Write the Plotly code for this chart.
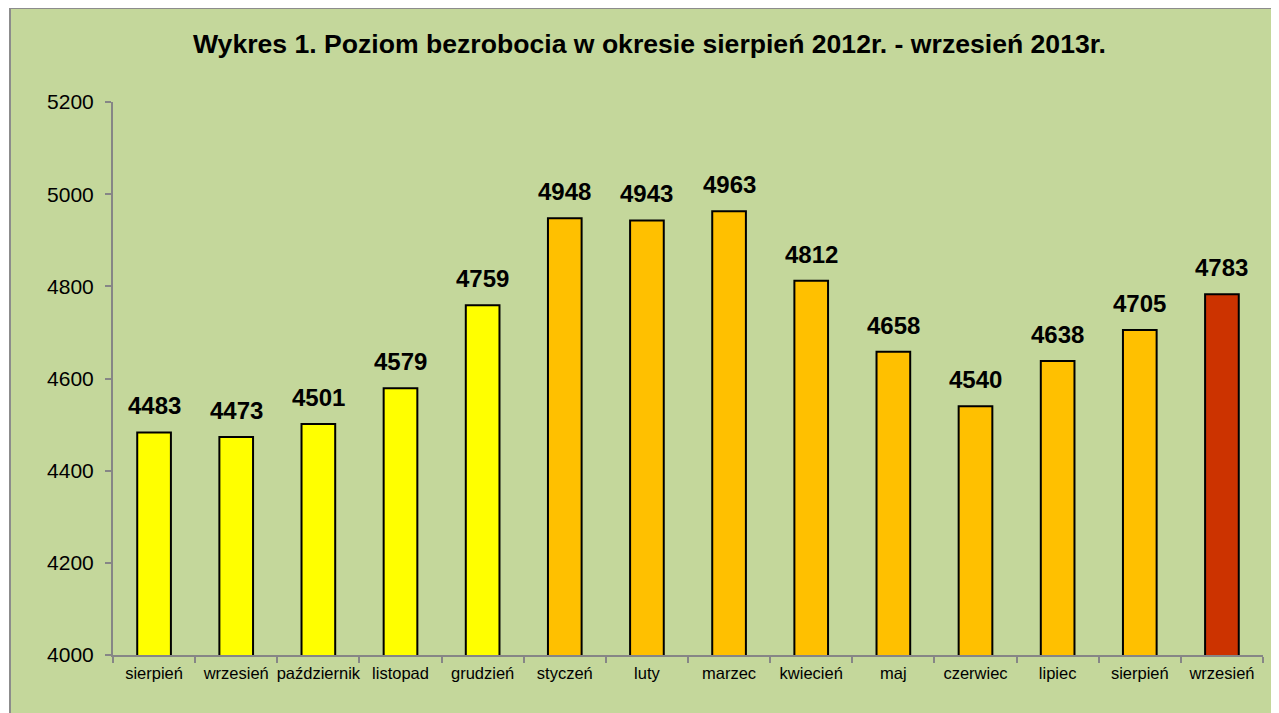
import plotly.graph_objects as go

months = ["sierpień", "wrzesień", "październik", "listopad", "grudzień", "styczeń", "luty",
          "marzec", "kwiecień", "maj", "czerwiec", "lipiec", "sierpień", "wrzesień"]
values = [4483, 4473, 4501, 4579, 4759, 4948, 4943, 4963, 4812, 4658, 4540, 4638, 4705, 4783]
colors = ["#FFFF00"] * 5 + ["#FFC000"] * 8 + ["#CC3300"]
y_ticks = [4000, 4200, 4400, 4600, 4800, 5000, 5200]
title = "Wykres 1. Poziom bezrobocia w okresie sierpień 2012r. - wrzesień 2013r."

xs = list(range(len(months)))

# page has 8px body margin; figure origin is at (8, 8) on screen
W, H = 1271, 705
L, T = 105, 94
PW, PH = 1150, 553

fig = go.Figure()
fig.add_trace(go.Bar(
    x=xs, y=values, marker=dict(color=colors, line=dict(color="#000000", width=2)),
    width=0.41, hoverinfo="skip", showlegend=False,
))

for x, v in zip(xs, values):
    fig.add_annotation(x=x, y=v, text=f"<b>{v}</b>", showarrow=False, yanchor="bottom",
                       yshift=11, font=dict(family="Liberation Sans, Arial", size=24, color="#000000"))

fig.add_shape(type="rect", xref="paper", yref="paper",
              x0=(2 - L) / PW, x1=1.05, y0=-0.3, y1=(T + PH - 0) / PH,
              fillcolor="#C4D79B", line=dict(color="#8C8C8C", width=2), layer="below")

fig.add_annotation(xref="paper", yref="paper", x=(641.5 - L) / PW, y=(T + PH - 36) / PH,
                   text=f"<b>{title}</b>", showarrow=False, xanchor="center", yanchor="middle",
                   font=dict(family="Liberation Sans, Arial", size=26.6, color="#000000"))

fig.update_layout(
    width=W, height=H,
    margin=dict(l=L, r=W - L - PW, t=T, b=H - T - PH),
    paper_bgcolor="#FFFFFF", plot_bgcolor="rgba(0,0,0,0)",
    font=dict(family="Liberation Sans, Arial", color="#000000"),
)
fig.update_xaxes(
    range=[-0.5, len(months) - 0.5], tickvals=xs, ticktext=months,
    ticks="outside", ticklen=0, showline=True, linecolor="#868686", linewidth=2,
    tickfont=dict(size=16.5), showgrid=False, zeroline=False, ticklabelstandoff=2,
    minor=dict(tickmode="linear", tick0=-0.5, dtick=1, ticks="outside", ticklen=6,
               tickcolor="#868686", tickwidth=2, showgrid=False),
)
fig.update_yaxes(
    range=[4000, 5200], tickvals=y_ticks, ticks="outside", ticklen=6, tickcolor="#868686",
    tickwidth=2, showline=True, linecolor="#868686", linewidth=2, showgrid=False,
    zeroline=False, tickfont=dict(size=21), ticklabelstandoff=7,
)

fig.write_html("out.html")
